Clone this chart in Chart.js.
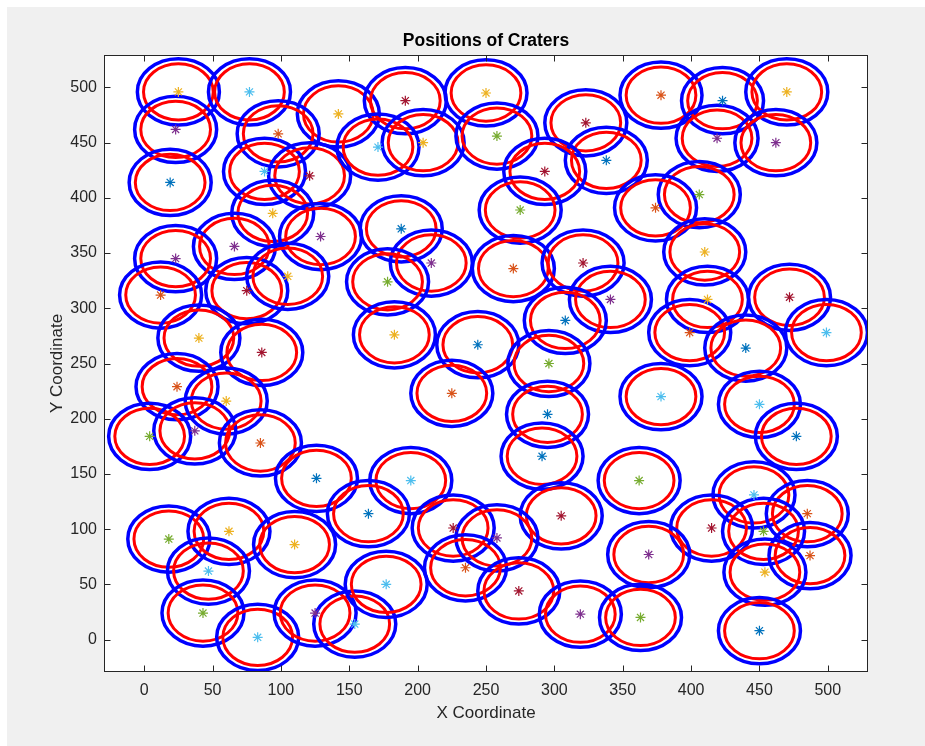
<!DOCTYPE html>
<html>
<head>
<meta charset="utf-8">
<title>Positions of Craters</title>
<script src="https://cdn.jsdelivr.net/npm/chart.js@4.4.1/dist/chart.umd.min.js"></script>
<style>
    html, body { margin: 0; padding: 0; background: #ffffff; }
    #wrap { width: 925px; height: 746px; }
</style>
</head>
<body>
<div id="wrap"><canvas id="craterChart" width="925" height="746"></canvas></div>
<script>
// Crater centres (x, y) and the colour of each centre marker
const craterX = [25, 77, 142, 23, 98, 19, 88, 121, 94, 129, 66, 191, 250, 171, 204, 258, 323, 338, 293, 275,
    188, 378, 423, 470, 419, 462, 406, 374, 410, 23, 12, 75, 105, 40, 86, 24, 60, 4, 37, 85,
    210, 178, 270, 321, 341, 183, 244, 308, 296, 225, 295, 291, 412, 472, 399, 499, 440, 378, 450, 477,
    126, 18, 62, 110, 47, 43, 83, 125, 154, 195, 164, 305, 226, 258, 235, 177, 274, 319, 362, 446,
    485, 415, 453, 369, 487, 454, 363, 450];
const craterY = [496, 496, 476, 462, 458, 414, 424, 420, 386, 365, 356, 488, 495, 446, 450, 456, 468, 434, 424, 389,
    372, 493, 488, 496, 454, 450, 403, 391, 351, 345, 312, 316, 329, 273, 260, 229, 216, 184, 189, 178,
    341, 324, 336, 341, 308, 276, 267, 289, 250, 223, 204, 166, 308, 310, 278, 278, 264, 220, 213, 184,
    146, 91, 98, 86, 62, 24, 2, 24, 14, 144, 114, 112, 101, 92, 65, 50, 44, 23, 144, 131,
    114, 101, 98, 77, 76, 61, 20, 8];
const markerColor = ['yellow', 'lightblue', 'yellow', 'purple', 'orange', 'blue', 'lightblue', 'darkred', 'yellow', 'purple',
    'purple', 'darkred', 'yellow', 'lightblue', 'yellow', 'green', 'darkred', 'blue', 'darkred', 'green',
    'blue', 'orange', 'blue', 'yellow', 'purple', 'purple', 'green', 'orange', 'yellow', 'purple',
    'orange', 'darkred', 'yellow', 'yellow', 'darkred', 'orange', 'yellow', 'green', 'purple', 'orange',
    'purple', 'green', 'orange', 'darkred', 'purple', 'yellow', 'blue', 'blue', 'green', 'orange',
    'blue', 'blue', 'yellow', 'darkred', 'orange', 'lightblue', 'blue', 'lightblue', 'lightblue', 'blue',
    'blue', 'green', 'yellow', 'yellow', 'lightblue', 'green', 'lightblue', 'purple', 'lightblue', 'lightblue',
    'blue', 'darkred', 'darkred', 'purple', 'orange', 'lightblue', 'darkred', 'purple', 'green', 'lightblue',
    'orange', 'darkred', 'green', 'purple', 'orange', 'yellow', 'green', 'blue'];

const OUTER_R = 30;    // blue rim
const INNER_R = 25.5;  // red rim

const palette = {
    blue: '#0072BD', orange: '#D95319', yellow: '#EDB120', purple: '#7E2F8E',
    green: '#77AC30', lightblue: '#4DBEEE', darkred: '#A2142F'
};
const FONT = "'Liberation Sans', Arial, Helvetica, sans-serif";
const AXIS_COLOR = '#262626';

// --- figure background (grey window, white axes) ---
const figureBackground = {
    id: 'figureBackground',
    beforeDraw(chart) {
        const { ctx, chartArea: a } = chart;
        ctx.save();
        ctx.fillStyle = '#ffffff';
        ctx.fillRect(0, 0, chart.width, chart.height);
        ctx.fillStyle = '#f0f0f0';
        ctx.fillRect(7, 7, chart.width - 7, chart.height - 7);
        ctx.fillStyle = '#ffffff';
        ctx.fillRect(a.left, a.top, a.right - a.left, a.bottom - a.top);
        ctx.restore();
    }
};

// --- crater rims, sized in data units through the scales ---
const craterRings = {
    id: 'craterRings',
    beforeDatasetsDraw(chart) {
        const { ctx, chartArea: a } = chart;
        const xs = chart.scales.x, ys = chart.scales.y;
        ctx.save();
        ctx.beginPath();
        ctx.rect(a.left, a.top, a.right - a.left, a.bottom - a.top);
        ctx.clip();
        craterX.forEach((cx, i) => {
            const cy = craterY[i];
            const px = xs.getPixelForValue(cx);
            const py = ys.getPixelForValue(cy);
            [[OUTER_R, '#0000ff', 3.5], [INNER_R, '#ff0000', 3]].forEach(([r, col, w]) => {
                const rx = Math.abs(xs.getPixelForValue(cx + r) - px);
                const ry = Math.abs(ys.getPixelForValue(cy + r) - py);
                ctx.beginPath();
                ctx.ellipse(px, py, rx, ry, 0, 0, Math.PI * 2);
                ctx.strokeStyle = col;
                ctx.lineWidth = w;
                ctx.stroke();
            });
        });
        ctx.restore();
    }
};

// --- MATLAB style box with inward ticks on all four sides ---
const axesBox = {
    id: 'axesBox',
    afterDraw(chart) {
        const { ctx, chartArea: a } = chart;
        const xs = chart.scales.x, ys = chart.scales.y;
        const L = Math.round(a.left) + 0.5, R = Math.round(a.right) - 0.5;
        const T = Math.round(a.top) + 0.5, B = Math.round(a.bottom) - 0.5;
        const len = 6;
        ctx.save();
        ctx.strokeStyle = AXIS_COLOR;
        ctx.lineWidth = 1;
        ctx.strokeRect(L, T, R - L, B - T);
        ctx.beginPath();
        xs.ticks.forEach(t => {
            const p = Math.round(xs.getPixelForValue(t.value)) + 0.5;
            ctx.moveTo(p, B); ctx.lineTo(p, B - len);
            ctx.moveTo(p, T); ctx.lineTo(p, T + len);
        });
        ys.ticks.forEach(t => {
            const p = Math.round(ys.getPixelForValue(t.value)) + 0.5;
            ctx.moveTo(L, p); ctx.lineTo(L + len, p);
            ctx.moveTo(R, p); ctx.lineTo(R - len, p);
        });
        ctx.stroke();
        ctx.restore();
    }
};

const ctx = document.getElementById('craterChart').getContext('2d');
const chart = new Chart(ctx, {
    type: 'scatter',
    data: {
        datasets: [{
            label: 'Crater centres',
            data: craterX.map((x, i) => ({ x: x, y: craterY[i] })),
            pointStyle: 'star',
            pointRadius: 5,
            pointBorderWidth: 1.2,
            pointBorderColor: markerColor.map(c => palette[c]),
            pointBackgroundColor: markerColor.map(c => palette[c]),
            showLine: false
        }]
    },
    options: {
        responsive: false,
        animation: false,
        layout: { padding: { left: 0, right: 57, top: 0, bottom: 0 } },
        scales: {
            x: {
                type: 'linear',
                min: -29.4,
                max: 529.4,
                grid: { display: false, drawTicks: false },
                border: { display: false },
                ticks: {
                    stepSize: 50, includeBounds: false, autoSkip: false, maxRotation: 0,
                    padding: 9, color: AXIS_COLOR, font: { family: FONT, size: 16 }
                },
                title: {
                    display: true, text: 'X Coordinate', color: AXIS_COLOR,
                    font: { family: FONT, size: 17 }, padding: { top: 0, bottom: 22 }
                },
                afterFit(s) { s.height = 74; }
            },
            y: {
                type: 'linear',
                min: -29.4,
                max: 529.4,
                grid: { display: false, drawTicks: false },
                border: { display: false },
                ticks: {
                    stepSize: 50, includeBounds: false, autoSkip: false,
                    padding: 7, color: AXIS_COLOR, font: { family: FONT, size: 16 }
                },
                title: {
                    display: true, text: 'Y Coordinate', color: AXIS_COLOR,
                    font: { family: FONT, size: 17 }, padding: { top: 47, bottom: 0 }
                },
                afterFit(s) { s.width = 104; }
            }
        },
        plugins: {
            legend: { display: false },
            tooltip: { enabled: false },
            title: {
                display: true,
                fullSize: false,
                text: 'Positions of Craters',
                color: '#000000',
                font: { family: FONT, size: 17.5, weight: 'bold' },
                padding: { top: 31, bottom: 3 }
            }
        }
    },
    plugins: [figureBackground, craterRings, axesBox]
});
</script>
</body>
</html>
